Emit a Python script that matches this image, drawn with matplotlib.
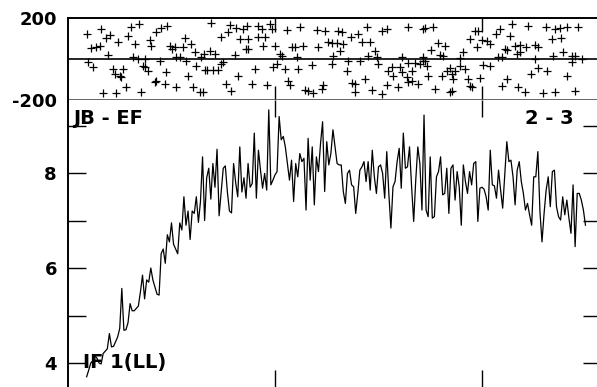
import matplotlib
matplotlib.use("Agg")
import matplotlib.pyplot as plt
import numpy as np

# ---- data ----
amp_start = 9  # time of first amplitude sample
amp = [
    3.71, 3.85, 4.00, 4.05, 4.15, 4.10, 4.00, 3.98, 4.20, 4.25,
    4.30, 4.62, 4.34, 4.35, 4.45, 4.55, 4.73, 5.57, 4.69, 4.70,
    4.85, 5.25, 5.10, 5.10, 5.15, 5.20, 5.50, 5.85, 5.35, 5.75,
    5.70, 6.00, 5.75, 5.60, 5.45, 5.43, 6.30, 6.40, 6.10, 6.70,
    6.55, 6.95, 6.50, 6.40, 6.30, 6.95, 6.80, 7.50, 6.90, 7.20,
    6.60, 7.20, 7.15, 7.50, 6.96, 7.40, 8.34, 7.00, 7.90, 8.10,
    7.45, 8.20, 7.70, 8.50, 7.10, 7.60, 8.10, 8.15, 7.60, 7.20,
    7.16, 8.20, 7.80, 7.50, 8.55, 7.60, 7.90, 7.47, 8.20, 7.70,
    # segment 2
    7.78, 8.84, 7.47, 8.48, 8.06, 7.68, 7.99, 7.64, 9.33, 7.75,
    7.85, 7.96, 8.03, 9.19, 8.70, 8.77, 8.55, 8.20, 7.85, 8.27,
    7.40, 8.20, 7.92, 8.41, 8.24, 8.31, 7.22, 8.73, 7.85, 8.55,
    7.33, 8.34, 8.03, 8.62, 9.08, 7.61, 8.66, 8.17, 8.41, 8.91,
    8.55, 8.20, 8.17, 8.17, 7.61, 7.36, 7.99, 8.06, 7.75, 7.71,
    7.15, 7.57, 8.06, 8.13, 8.24, 7.82, 8.24, 7.64, 8.48, 7.92,
    7.57, 8.13, 8.17, 7.99, 7.47, 8.45, 7.57, 6.84, 7.71, 7.82,
    8.24, 8.52, 7.68, 8.84, 8.10, 8.13, 8.55, 7.71, 6.98, 7.85,
    8.55, 8.20,
    # segment 3
    7.22, 9.22, 7.22, 7.08, 8.34, 7.05, 7.08, 7.92, 8.03, 8.34,
    7.54, 7.57, 8.10, 7.15, 8.10, 8.17, 7.43, 8.03, 7.71, 6.90,
    8.17, 7.82, 7.57, 8.03, 7.75, 8.20, 8.24, 6.98, 7.68, 7.70,
    7.66, 7.50, 7.22, 8.48, 7.75, 7.73, 7.47, 8.06, 7.64, 7.26,
    7.96, 8.66, 8.24, 8.27, 7.92, 7.33, 8.06, 8.24, 7.82, 7.57,
    7.22, 7.36, 7.12, 6.90, 7.92, 7.92, 8.45, 7.19, 6.55, 7.15,
    7.64, 7.92, 7.29, 8.03, 8.06, 7.29, 7.08, 7.01, 7.50, 7.12,
    7.43, 7.05, 6.73, 7.75, 6.45, 7.57, 7.57, 7.43, 7.22, 6.90,
]

phase_t = [
    9.3, 16.1, 18.5, 20.1, 11.0, 13.7, 15.3, 24.2, 29.0, 30.3, 34.1, 32.2, 39.5, 40.3,
    42.7, 45.1, 48.0, 49.1, 50.2, 51.5, 55.6, 56.4, 59.3, 61.2, 64.1, 65.7, 68.4, 70.9,
    69.2, 74.1, 77.3, 78.1, 81.3, 84.5, 82.9, 86.2, 80.5, 19.3, 31.4, 33.8, 37.0, 44.3,
    52.3, 53.9, 57.2, 9.7, 12.1, 21.7, 22.5, 25.8, 26.6, 25.0, 36.2, 37.4, 38.6, 47.5,
    42.7, 46.7, 58.0, 62.0, 66.0, 67.3, 70.0, 72.5, 74.1, 74.9, 82.1, 52.3, 60.4, 63.6,
    65.2, 16.9, 23.3, 28.2, 35.4, 76.5, 78.9, 41.9,
    86.3, 91.9, 93.6, 97.6, 98.4, 105.6, 112.1, 120.1, 124.1, 130.6, 132.2, 136.7, 140.3,
    144.3, 151.5, 153.9, 164.4, 171.6, 87.1, 91.9, 95.2, 94.4, 100.0, 108.0, 109.7, 113.7,
    120.9, 125.4, 127.4, 129.8, 133.0, 141.9, 145.9, 148.3, 131.4, 128.2, 145.1, 149.1,
    161.2, 86.8, 102.4, 103.2, 110.5, 90.3, 99.2, 100.8, 104.8, 111.3, 117.7, 127.4, 134.6,
    135.4, 141.1, 149.9, 156.4, 160.4, 164.4, 167.6, 170.0, 171.6, 154.7, 157.2, 161.2,
    166.0, 163.6, 88.7, 95.9, 106.4, 107.2, 114.5, 116.1, 118.5, 122.5, 123.3, 137.0,
    138.6, 143.5, 138.6, 146.7, 151.5, 153.9, 159.6, 164.4, 169.2, 166.0,
    172.4, 176.1, 196.6, 198.2, 208.6, 214.3, 222.3, 230.9, 235.2, 237.6, 240.9, 246.5,
    194.2, 199.8, 202.2, 203.8, 207.0, 213.5, 197.4, 178.9, 182.1, 175.6, 179.7, 181.3,
    190.9, 211.1, 215.9, 218.3, 221.5, 225.6, 227.2, 233.6, 238.4, 211.9, 216.7, 218.3,
    234.4, 239.2, 243.3, 244.9, 171.6, 172.4, 207.8, 209.5, 189.3, 225.6, 243.3, 248.1,
    173.2, 189.3, 184.5, 182.9, 186.9, 191.7, 200.6, 203.8, 227.2, 231.2, 223.9, 240.9,
    174.0, 180.5, 185.3, 186.1, 193.3, 199.0, 211.9, 194.2, 177.2, 185.3, 184.5, 195.0,
    209.5, 217.5, 220.7, 229.6, 235.2, 244.9,
]
phase = [
    122, 146, 102, 119, 54, 57, 65, 81, 114, 158, 171, 73, 93, 65,
    130, 151, 159, 65, 49, 57, 57, 102, 73, 33, 11, 24, 41, 24,
    176, 109, 130, 167, 151, 146, 98, 49, 21, 21, 11, 0, 0, -8,
    8, 8, -8, -16, -37, -49, -73, -89, -49, -81, -33, -41, -57, -65,
    -106, -122, -81, -33, -54, -54, -54, -54, -24, -16, -81, -135, -135, -163,
    -163, -167, -167, -138, -159, -122, -154, -111,
    163, 163, 146, 171, 146, 141, 154, 141, 135, 138, 130, 109, 122,
    158, 138, 146, 158, 146, 98, 106, 109, 65, 65, 57, 57, 62,
    57, 81, 76, 76, 73, 81, 81, 41, 41, 16, 16, 8,
    11, 49, 24, 16, 8, -49, -37, -24, -49, -49, -29, -24, -60,
    -8, -8, -24, -37, -41, -21, -21, -24, -8, -57, -81, -65,
    -57, -89, -122, -125, -106, -125, -151, -154, -166, -146, -125, -117,
    -122, -98, -163, -151, -171, -125, -138, -114, -122, -106,
    151, 158, 138, 135, 146, 171, 163, 154, 146, 151, 154, 154,
    98, 93, 86, 73, 122, 114, 60, 76, 65, 44, 21, 16,
    33, 49, 65, 70, 57, 70, 57, 98, 102, 44, 24, 33,
    16, 33, 16, 16, 8, -8, 8, 11, 5, 0, -16, 0,
    -33, -33, -44, -57, -57, -49, -28, -33, -44, -57, -73, -81,
    -81, -81, -73, -98, -98, -93, -98, -130, -146, -158, -163, -135,
    -130, -135, -163, -167, -163, -158,
]

amp_ticks_major = [4, 6, 8]
amp_ticks_minor = [5, 7, 9]
phase_ticks = [-200, 200]
phase_ticklabels = ["-200", "200"]
time_ticks = [100, 200]
baseline_label = "JB - EF"
stokes_label = "IF 1(LL)"
page_label = "2 - 3"

# ---- figure ----
W, H = 597, 387
fig = plt.figure(figsize=(W / 100, H / 100), dpi=100)
plt.rcParams['font.family'] = ['DejaVu Sans']
FS_TICK = 13
FS_TEXT = 14

left = 68 / W
width = 533 / W
top_h = 82 / H
bot_h = 287 / H

ax_t = fig.add_axes([left, bot_h, width, top_h])
ax_b = fig.add_axes([left, 0, width, bot_h])

xlim = (0, 257.5)

# top: phase
ax_t.plot(phase_t, phase, linestyle='none', marker='+', color='black',
          markersize=6, markeredgewidth=0.9)
ax_t.axhline(0, color='black', lw=1.2)
ax_t.set_xlim(*xlim)
ax_t.set_ylim(-200, 200)
ax_t.set_yticks(phase_ticks)
ax_t.set_yticklabels(phase_ticklabels, fontsize=FS_TICK, fontweight='bold')
ax_t.tick_params(axis='y', length=0, pad=8)
ax_t.set_xticks(time_ticks)
ax_t.tick_params(axis='x', direction='in', top=True, bottom=True, length=10,
                 width=1, labelbottom=False)
for s in ['top', 'left']:
    ax_t.spines[s].set_linewidth(1.4)
ax_t.spines['bottom'].set_linewidth(2)
ax_t.spines['bottom'].set_color('#555555')
ax_t.spines['right'].set_visible(False)

# bottom: amplitude
amp_t = np.arange(len(amp)) + amp_start
ax_b.plot(amp_t, amp, color='black', lw=0.9)
ax_b.set_xlim(*xlim)
ax_b.set_ylim(3.495, 9.537)
ax_b.set_yticks(amp_ticks_major)
ax_b.set_yticklabels([str(v) for v in amp_ticks_major], fontsize=FS_TICK,
                     fontweight='bold')
ax_b.set_yticks(amp_ticks_minor, minor=True)
ax_b.tick_params(axis='y', which='both', direction='in', left=True, right=True,
                 length=13, width=1, pad=8)
ax_b.set_xticks(time_ticks)
ax_b.tick_params(axis='x', direction='in', top=True, bottom=True, length=12,
                 width=1, labelbottom=False)
ax_b.spines['left'].set_linewidth(1.4)
for s in ['top', 'bottom', 'right']:
    ax_b.spines[s].set_visible(False)

ax_b.text(0.01, 0.968, baseline_label, transform=ax_b.transAxes, ha='left',
          va='top', fontsize=FS_TEXT, fontweight='bold')
ax_b.text(0.948, 0.968, page_label, transform=ax_b.transAxes, ha='right',
          va='top', fontsize=FS_TEXT, fontweight='bold')
ax_b.text(0.028, 0.066, stokes_label, transform=ax_b.transAxes, ha='left',
          va='baseline', fontsize=FS_TEXT, fontweight='bold')

fig.savefig('out.png', dpi=100)
